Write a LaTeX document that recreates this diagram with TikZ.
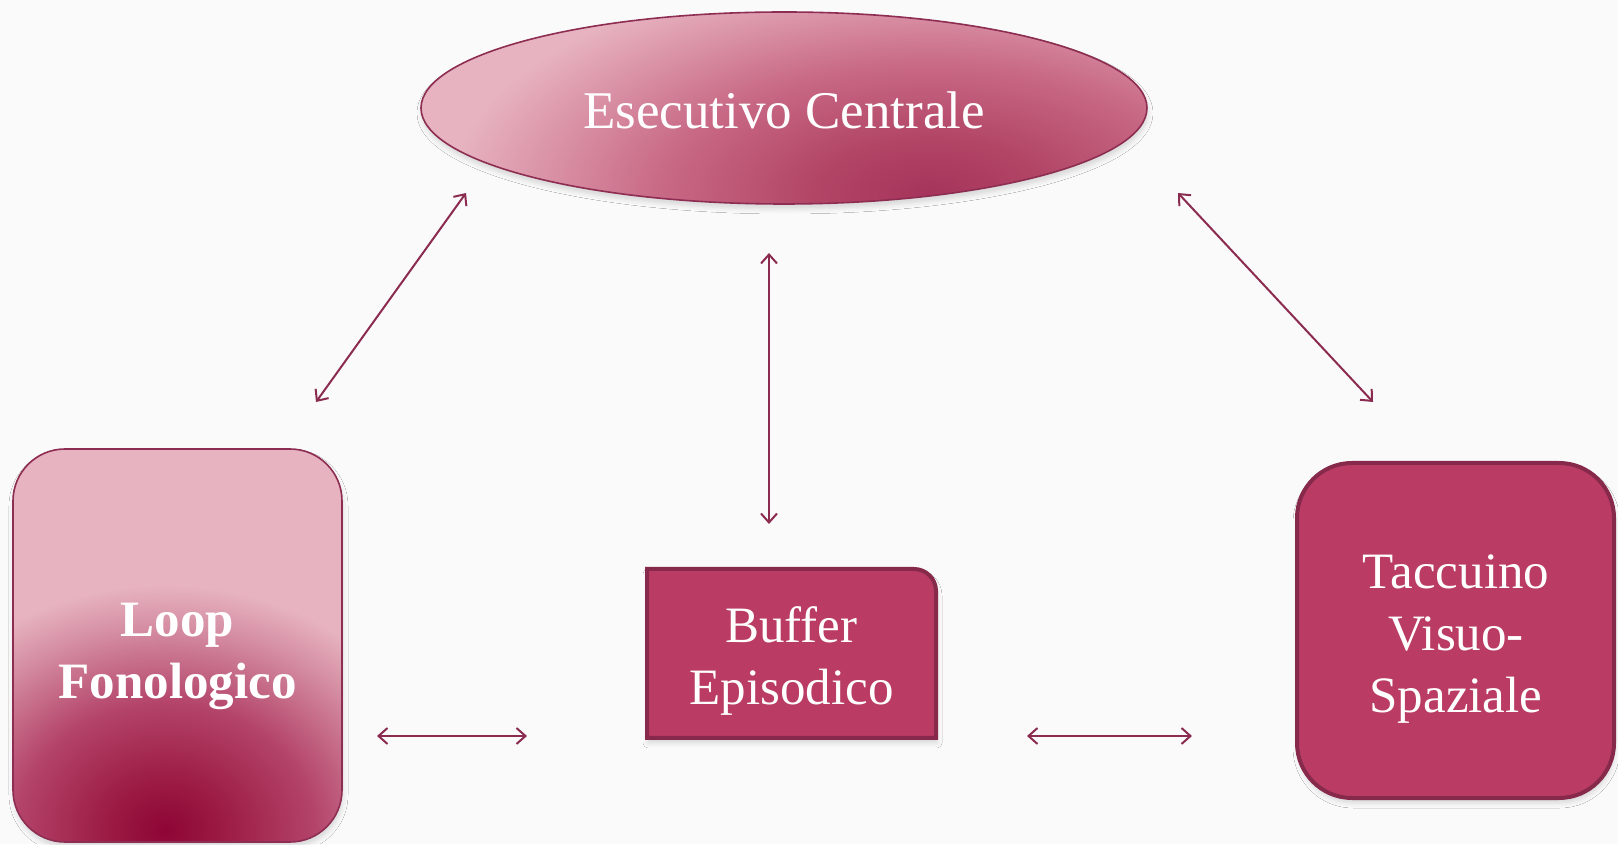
\documentclass[tikz,border=0pt]{standalone}
\usepackage{fontspec}
\setmainfont{Liberation Serif}
\usetikzlibrary{arrows.meta,shapes.geometric,shadows.blur}
\definecolor{bg}{HTML}{FAFAFA}
\definecolor{pinkL}{HTML}{E7B3C0}
\definecolor{ecA}{HTML}{A6345B}
\definecolor{ecB}{HTML}{B24566}
\definecolor{ecC}{HTML}{C86985}
\definecolor{ecD}{HTML}{DC98AB}
\definecolor{lpA}{HTML}{8E0535}
\definecolor{lpB}{HTML}{9C1C45}
\definecolor{lpC}{HTML}{B4446A}
\definecolor{lpD}{HTML}{D38AA0}
\definecolor{boxfill}{HTML}{BA3C65}
\definecolor{boxline}{HTML}{86294B}
\definecolor{thinline}{HTML}{8E2D52}
\definecolor{arrowc}{HTML}{8B2B50}
\pgfdeclareradialshading{ecrad}{\pgfpoint{0bp}{0bp}}{color(0bp)=(ecA); color(6bp)=(ecB); color(14bp)=(ecC); color(21bp)=(ecD); color(25bp)=(pinkL); color(50bp)=(pinkL)}
\pgfdeclareradialshading{lprad}{\pgfpoint{0bp}{0bp}}{color(0bp)=(lpA); color(5bp)=(lpB); color(12.5bp)=(lpC); color(19.5bp)=(lpD); color(24bp)=(pinkL); color(50bp)=(pinkL)}
\begin{document}
\begin{tikzpicture}[x=1pt,y=1pt,
  conn/.style={draw=arrowc, line width=2pt, {Straight Barb[length=9pt,width=16pt]}-{Straight Barb[length=9pt,width=16pt]}},
  txt/.style={text=white, align=center, font=\fontsize{51}{62}\selectfont},
  shad/.style={blur shadow={shadow xshift=1pt, shadow yshift=-5pt, shadow blur radius=5pt, shadow opacity=14}},
  thickbox/.style={draw=boxline, line width=4pt, fill=boxfill}]
\useasboundingbox (0,0) rectangle (1618,844);
\fill[bg] (0,0) rectangle (1618,844);

% Esecutivo Centrale
\path[fill=pinkL, shad] (784,736) ellipse [x radius=363, y radius=96];
\begin{scope}
  \clip (784,736) ellipse [x radius=363, y radius=96];
  \shade[shading=ecrad] (450,420) rectangle (1410,880);
\end{scope}
\node[ellipse, draw=thinline, line width=1.6pt, minimum width=726pt, minimum height=192pt, inner sep=0pt] (ec) at (784,736) {};
\node[txt, font=\fontsize{53}{62}\selectfont] (ectxt) at (784,734) {Esecutivo Centrale};

% Loop Fonologico
\path[fill=pinkL, shad, rounded corners=52pt] (13,2) rectangle (342,395);
\begin{scope}
  \clip[rounded corners=52pt] (13,2) rectangle (342,395);
  \shade[shading=lprad] (-135,-241) rectangle (465,269);
\end{scope}
\node[draw=thinline, line width=1.6pt, rounded corners=52pt, minimum width=329pt, minimum height=393pt, inner sep=0pt] (loop) at (177.5,198.5) {};
\node[txt, font=\bfseries\fontsize{51}{62}\selectfont] (looptxt) at (177.5,188) {Loop\\Fonologico};

% Buffer Episodico
\draw[thickbox, shad] (647,106) -- (647,275) -- (914,275) arc[start angle=90, end angle=0, radius=22pt] -- (936,106) -- cycle;
\node[txt] (buf) at (791.5,183) {Buffer\\Episodico};

% Taccuino Visuo-Spaziale
\node[thickbox, shad, rounded corners=55pt, minimum width=317pt, minimum height=335pt, inner sep=0pt] (tac) at (1455.5,213.5) {};
\node[txt] (tactxt) at (1456,205) {Taccuino\\Visuo-\\Spaziale};

% connectors
\coordinate (a1s) at (466,651); \coordinate (a1e) at (316,442);
\coordinate (a2s) at (769,591); \coordinate (a2e) at (769,320);
\coordinate (a3s) at (1178,651); \coordinate (a3e) at (1373,442);
\coordinate (a4s) at (377,108); \coordinate (a4e) at (527,108);
\coordinate (a5s) at (1027,108); \coordinate (a5e) at (1192,108);
\draw[conn] (a1s) -- (a1e);
\draw[conn] (a2s) -- (a2e);
\draw[conn] (a3s) -- (a3e);
\draw[conn] (a4s) -- (a4e);
\draw[conn] (a5s) -- (a5e);
\end{tikzpicture}
\end{document}
